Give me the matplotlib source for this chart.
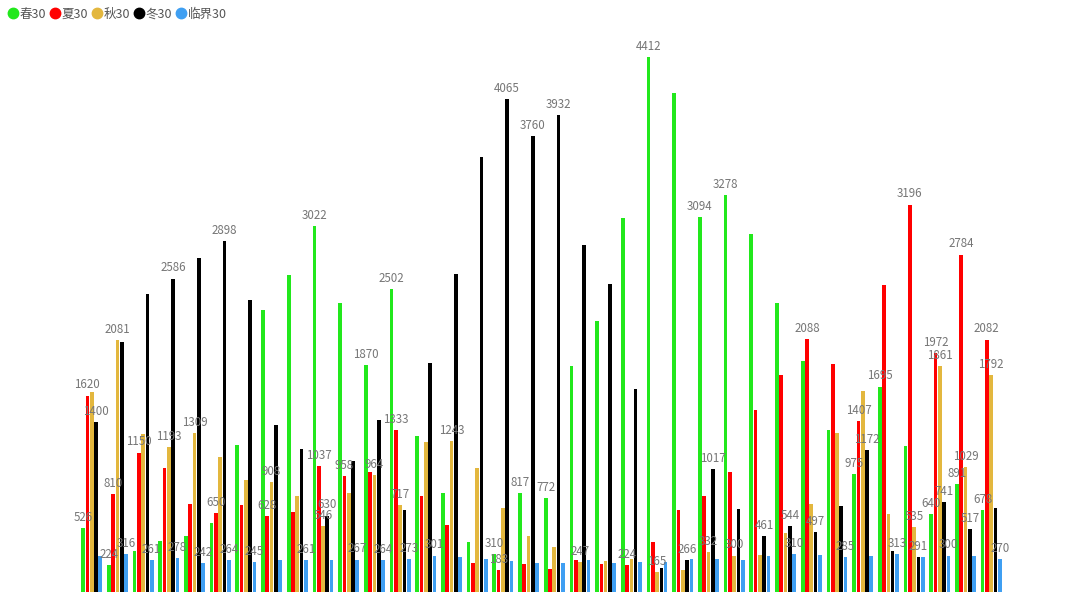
import matplotlib
matplotlib.use("Agg")
import matplotlib.pyplot as plt
from matplotlib.lines import Line2D
import numpy as np

plt.rcParams['font.family'] = ['Noto Sans CJK SC', 'DejaVu Sans']

series_names = ["春30", "夏30", "秋30", "冬30", "临界30"]
colors = ["#22e81c", "#ff0000", "#e3b73e", "#000000", "#3f9ff2"]

spring = [526, 224, 336, 419, 463, 573, 1212, 2325, 2612, 3022, 2386, 1870, 2502, 1289, 815, 413, 310, 817,
          772, 1868, 2240, 3085, 4412, 4117, 3094, 3278, 2950, 2382, 1903, 1334, 975, 1695, 1205, 640, 891, 678]
summer = [1620, 810, 1150, 1019, 730, 650, 716, 628, 664, 1037, 958, 990, 1333, 796, 551, 237, 183, 228,
          190, 267, 228, 224, 413, 674, 795, 988, 1500, 1788, 2088, 1878, 1407, 2533, 3196, 1972, 2784, 2082]
autumn = [1650, 2081, 1300, 1193, 1309, 1113, 923, 908, 793, 546, 815, 964, 717, 1240, 1243, 1019, 694, 465,
          370, 247, 256, 270, 165, 181, 332, 300, 305, 484, 726, 1309, 1661, 641, 535, 1861, 1029, 1792]
winter = [1400, 2064, 2455, 2586, 2756, 2898, 2411, 1380, 1179, 630, 1083, 1419, 678, 1893, 2620, 3585, 4065, 3760,
          3932, 2864, 2543, 1674, 198, 266, 1017, 688, 461, 544, 497, 710, 1172, 335, 291, 741, 517, 696]
critical = [297, 316, 261, 278, 242, 264, 245, 262, 261, 262, 267, 264, 273, 301, 286, 270, 256, 240,
            240, 264, 240, 248, 245, 270, 272, 264, 294, 310, 303, 285, 300, 313, 290, 300, 297, 270]

# group indices (0-based) whose value label is visible, per series
shown_spring = [0, 1, 9, 11, 12, 16, 17, 18, 22, 24, 25, 30, 31, 33, 34, 35]
shown_summer = [0, 1, 2, 5, 7, 9, 10, 12, 16, 21, 28, 30, 32, 33, 34, 35]
shown_autumn = [1, 3, 4, 7, 9, 11, 12, 14, 19, 22, 24, 25, 32, 33, 34, 35]
shown_winter = [0, 3, 5, 9, 16, 17, 18, 23, 24, 26, 27, 28, 30, 32, 33, 34]
shown_critical = [1, 2, 3, 4, 5, 6, 8, 10, 11, 12, 13, 27, 29, 31, 33, 35]

data = [spring, summer, autumn, winter, critical]
shown = [shown_spring, shown_summer, shown_autumn, shown_winter, shown_critical]

fig = plt.figure(figsize=(10.8, 6.07), dpi=100)
ax = fig.add_axes([78.8 / 1080, 15 / 607, (1004 - 78.8) / 1080, 562 / 607])

n = len(spring)
x = np.arange(n)
step = 4.3 / 25.7
width = 3.7 / 25.7
for i, (vals, col) in enumerate(zip(data, colors)):
    xs = x + (i - 2) * step
    ax.bar(xs, vals, width=width, color=col, zorder=2)
    for g in shown[i]:
        ax.annotate(str(vals[g]), (xs[g], vals[g]), xytext=(0, 3), textcoords='offset points',
                    ha='center', va='bottom', fontsize=8.3, color='#767676',
                    family=['Noto Sans CJK SC', 'DejaVu Sans'], zorder=3)

ax.set_xlim(-0.5, n - 0.5)
ax.set_ylim(0, 562 / 0.1212)
ax.axis('off')

handles = [Line2D([0], [0], marker='o', linestyle='', markersize=7.5, markerfacecolor=c,
                  markeredgecolor=c) for c in colors]
fig.legend(handles, series_names, loc='upper left', bbox_to_anchor=(-0.002, 1.006), ncol=5,
           frameon=False, handlelength=0.6, handletextpad=0.2, columnspacing=0.45,
           fontsize=9.0, labelcolor='#555555')

fig.savefig("out.png", dpi=100)
